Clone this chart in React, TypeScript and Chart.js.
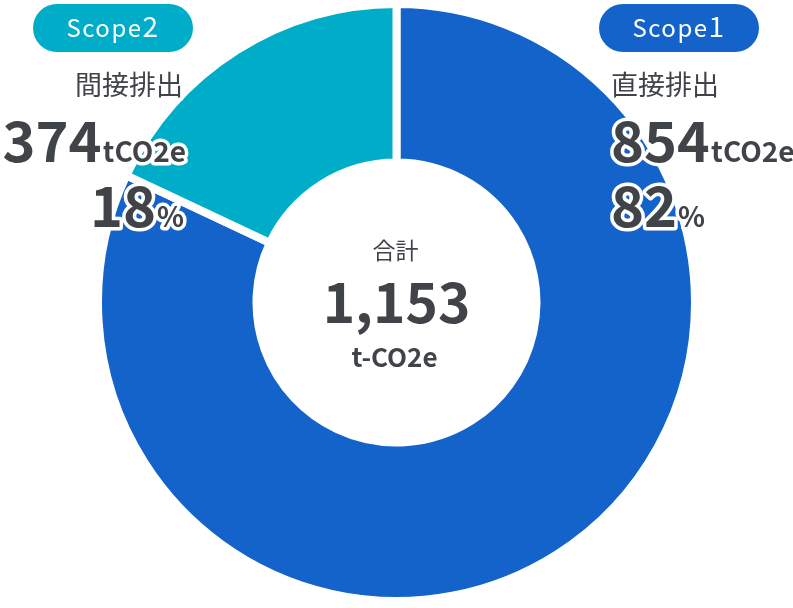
import React, { useEffect, useRef } from "react";
import { Chart, registerables } from "chart.js";

Chart.register(...registerables);

const categories = ["Scope1", "Scope2"];
const categoryNames = ["直接排出", "間接排出"];
const emissions = [854, 374];
const shares = [82, 18];
const totalText = "1,153";
const totalTitle = "合計";
const unitText = "tCO2e";
const totalUnit = "t-CO2e";
const colors = ["#1363CB", "#00ADC9"];

const FONT = '"Noto Sans CJK JP", "Noto Sans", sans-serif';
const TEXT_COLOR = "#404348";

function outlined(ctx: CanvasRenderingContext2D, text: string, x: number, y: number, font: string, align: CanvasTextAlign, baseline: CanvasTextBaseline = "alphabetic") {
  ctx.save();
  ctx.font = font;
  ctx.textAlign = align;
  ctx.textBaseline = baseline;
  ctx.lineJoin = "round";
  ctx.lineWidth = 7;
  ctx.strokeStyle = "#ffffff";
  ctx.strokeText(text, x, y);
  ctx.fillStyle = TEXT_COLOR;
  ctx.fillText(text, x, y);
  ctx.restore();
}

function pill(ctx: CanvasRenderingContext2D, x: number, y: number, w: number, h: number, color: string, text: string) {
  ctx.save();
  ctx.fillStyle = color;
  ctx.beginPath();
  const r = h / 2;
  ctx.moveTo(x + r, y);
  ctx.lineTo(x + w - r, y);
  ctx.arc(x + w - r, y + r, r, -Math.PI / 2, Math.PI / 2);
  ctx.lineTo(x + r, y + h);
  ctx.arc(x + r, y + r, r, Math.PI / 2, (Math.PI * 3) / 2);
  ctx.closePath();
  ctx.fill();
  ctx.fillStyle = "#ffffff";
  const word = text.slice(0, -1);
  const digit = text.slice(-1);
  (ctx as any).letterSpacing = "1.5px";
  ctx.font = `400 24px ${FONT}`;
  const ww = ctx.measureText(word).width;
  ctx.font = `400 28px ${FONT}`;
  const wd = ctx.measureText(digit).width;
  const total = ww + wd;
  const sx = x + w / 2 - total / 2;
  const by = y + h / 2 + 9;
  ctx.textAlign = "left";
  ctx.textBaseline = "alphabetic";
  ctx.font = `400 24px ${FONT}`;
  ctx.fillText(word, sx, by);
  ctx.font = `400 28px ${FONT}`;
  ctx.fillText(digit, sx + ww, by);
  ctx.restore();
}

const labelsPlugin = {
  id: "labelsPlugin",
  afterDraw(chart: any) {
    const ctx: CanvasRenderingContext2D = chart.ctx;
    pill(ctx, 599, 4, 160, 48, colors[0], categories[0]);
    pill(ctx, 33, 4, 160, 48, colors[1], categories[1]);

    const bigFont = `700 56px ${FONT}`;
    const unitFont = `700 28px ${FONT}`;
    const nameFont = `400 27px ${FONT}`;

    // Right group (Scope1)
    const rx = 611;
    outlined(ctx, categoryNames[0], rx, 85, nameFont, "left", "middle");
    ctx.font = bigFont;
    const w854 = ctx.measureText(String(emissions[0])).width;
    const w82 = ctx.measureText(String(shares[0])).width;
    outlined(ctx, String(emissions[0]), rx, 162, bigFont, "left");
    outlined(ctx, unitText, rx + w854 + 1, 162, unitFont, "left");
    outlined(ctx, String(shares[0]), rx, 227, bigFont, "left");
    outlined(ctx, "%", rx + w82 + 1, 227, unitFont, "left");

    // Left group (Scope2)
    const lx = 186;
    outlined(ctx, categoryNames[1], lx - 3, 85, nameFont, "right", "middle");
    ctx.font = unitFont;
    const wUnit = ctx.measureText(unitText).width;
    const wPct = ctx.measureText("%").width;
    outlined(ctx, unitText, lx, 162, unitFont, "right");
    outlined(ctx, String(emissions[1]), lx - wUnit - 1, 162, bigFont, "right");
    outlined(ctx, "%", lx - 2, 227, unitFont, "right");
    outlined(ctx, String(shares[1]), lx - wPct - 3, 227, bigFont, "right");

    // Center
    const cx = (chart.chartArea.left + chart.chartArea.right) / 2;
    ctx.save();
    ctx.fillStyle = TEXT_COLOR;
    ctx.textAlign = "center";
    ctx.font = `400 23px ${FONT}`;
    ctx.textBaseline = "middle";
    ctx.fillText(totalTitle, cx - 1, 250);
    ctx.textBaseline = "alphabetic";
    ctx.font = `700 55px ${FONT}`;
    ctx.fillText(totalText, cx, 323);
    ctx.font = `700 26px ${FONT}`;
    ctx.fillText(totalUnit, cx - 2, 367);
    ctx.restore();
  },
};

export default function App() {
  const ref = useRef<HTMLCanvasElement>(null);
  useEffect(() => {
    if (!ref.current) return;
    const chart = new Chart(ref.current, {
      type: "doughnut",
      data: {
        labels: categories,
        datasets: [
          {
            data: shares,
            backgroundColor: colors,
            borderColor: "#ffffff",
            borderWidth: 8,
            hoverOffset: 0,
          },
        ],
      },
      options: {
        responsive: false,
        animation: false,
        cutout: "46.9%",
        layout: { padding: { top: 0, bottom: 3, left: 0, right: 0 } },
        plugins: {
          legend: { display: false },
          tooltip: { enabled: false },
        },
      },
      plugins: [labelsPlugin],
    });
    return () => chart.destroy();
  }, []);
  return (
    <div style={{ position: "fixed", left: 0, top: 0, width: 793, height: 608, background: "#fff" }}>
      <canvas ref={ref} width={793} height={608} style={{ display: "block" }} />
    </div>
  );
}
